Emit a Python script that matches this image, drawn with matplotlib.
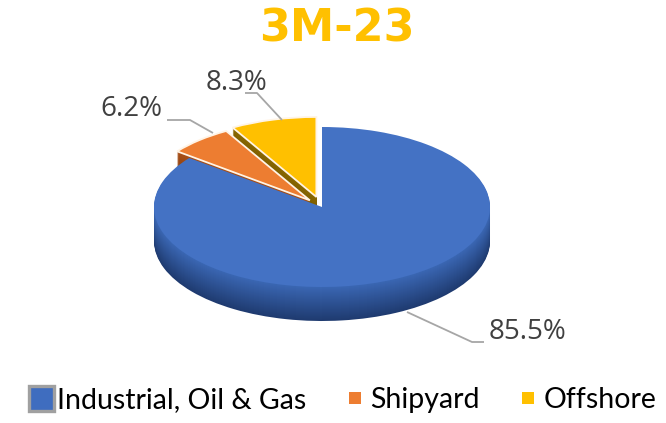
import numpy as np
import matplotlib
matplotlib.use("Agg")
import matplotlib.pyplot as plt
from matplotlib.lines import Line2D
from matplotlib.colors import to_rgb

# ---------------- data ----------------
title = "3M-23"
categories = ["Industrial, Oil & Gas", "Shipyard", "Offshore"]
shares = [85.5, 6.2, 8.3]
pct_labels = ["85.5%", "6.2%", "8.3%"]

top_colors = ["#4472C4", "#ED7D31", "#FFC000"]
side_top = ["#3A66B2", "#A84F17", "#8A6800"]
side_bot = ["#1F3B70", "#7A3408", "#5E4700"]
explode = [0.0, 0.11, 0.13]

# ---------------- geometry (pixels) ----------------
W, H = 666, 423
cx, cy, rx, ry = 322, 207, 168, 80
depth_px = 34

fig = plt.figure(figsize=(W / 100, H / 100), dpi=100)
ax = fig.add_axes([0, 0, 1, 1])


def px(x, y):
    return ((x - cx) / rx, (cy - y) / ry)


# side layers (bottom up)
for k in range(depth_px, 0, -1):
    t = (k - 1) / (depth_px - 1)
    cols = [tuple(np.array(to_rgb(a)) * (1 - t) + np.array(to_rgb(b)) * t)
            for a, b in zip(side_top, side_bot)]
    ax.pie(shares, colors=cols, startangle=90, counterclock=False,
           explode=explode, center=(0, -k / ry), radius=1,
           wedgeprops=dict(linewidth=0, antialiased=True), frame=True)

# top face
wedges, _ = ax.pie(shares, colors=top_colors, startangle=90, counterclock=False,
                   explode=explode, center=(0, 0), radius=1,
                   wedgeprops=dict(linewidth=0), frame=True)
for w in wedges[1:]:
    w.set_edgecolor("#FFF4E6")
    w.set_linewidth(1.3)

ax.set_xlim(-cx / rx, (W - cx) / rx)
ax.set_ylim((cy - H) / ry, cy / ry)
ax.set_aspect("auto")
ax.axis("off")

# ---------------- labels with leader lines ----------------
lc = "#A6A6A6"
label_pos = [(527, 332), (131, 109), (236, 83)]
leaders = [
    [(407, 312), (472, 342), (484, 342)],
    [(213, 133), (190, 120), (167, 120)],
    [(282, 120), (257, 93), (245, 93)],
]
for lab, (tx, ty), pts in zip(pct_labels, label_pos, leaders):
    xs, ys = zip(*[px(a, b) for a, b in pts])
    ax.plot(xs, ys, color=lc, lw=1.3, solid_capstyle="butt")
    ax.text(*px(tx, ty), lab, ha="center", va="center", fontsize=20,
            color="#404040", family="Open Sans")

# ---------------- title ----------------
fig.text(337 / W, 1 - 29 / H, title, ha="center", va="center",
         fontsize=32, fontweight="bold", color="#FFC000", family="DejaVu Sans")

# ---------------- legend ----------------
handles = [
    Line2D([], [], ls="none", marker="s", markersize=18,
           markerfacecolor="#3F6DBF", markeredgecolor="#A0A0A0", markeredgewidth=2.4),
    Line2D([], [], ls="none", marker="s", markersize=9,
           markerfacecolor=top_colors[1], markeredgewidth=0),
    Line2D([], [], ls="none", marker="s", markersize=9,
           markerfacecolor=top_colors[2], markeredgewidth=0),
]
fig.legend(handles, categories, loc="center", bbox_to_anchor=(342 / W, 1 - 400 / H),
           ncol=3, frameon=False, handletextpad=0.05, columnspacing=1.2,
           handlelength=1.0, prop=dict(family="Lato", size=20.5),
           labelcolor="#000000")

fig.savefig("out.png", dpi=100)
